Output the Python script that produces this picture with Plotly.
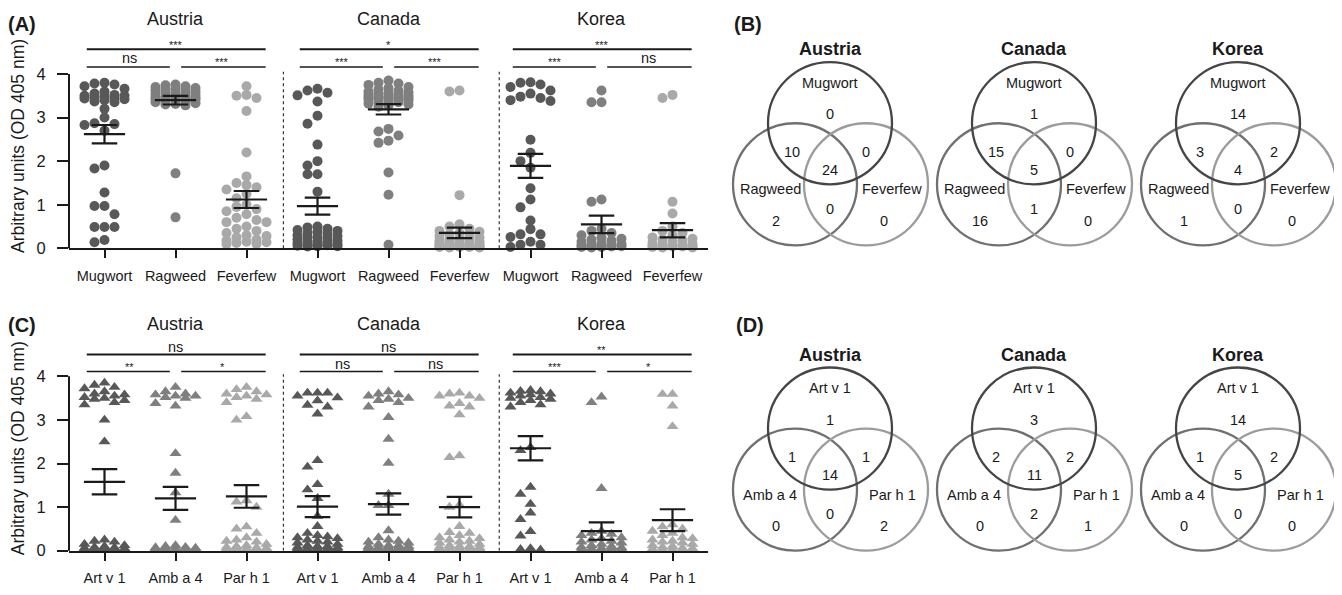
import math
import plotly.graph_objects as go

W, H = 1342, 595
OFF = 8  # page offset of the figure (default body margin)
FONT = "Liberation Sans, Arial, Helvetica, sans-serif"

countries = ["Austria", "Canada", "Korea"]
extracts = ["Mugwort", "Ragweed", "Feverfew"]
allergens = ["Art v 1", "Amb a 4", "Par h 1"]
y_ticks = [0, 1, 2, 3, 4]
y_title = "Arbitrary units (OD 405 nm)"

# ---------------- Panel A: IgE to pollen extracts ----------------
a_austria_mugwort = [3.80, 3.78, 3.76, 3.72, 3.66, 3.60, 3.55, 3.52, 3.50, 3.50, 3.48, 3.47, 3.45, 3.44, 3.42, 3.40, 3.37, 3.35,
                     3.20, 3.00, 2.87, 2.85, 2.83, 2.70, 1.90, 1.83, 1.28, 0.97, 0.97, 0.78, 0.49, 0.49, 0.49, 0.19, 0.14]
a_austria_ragweed = [3.76, 3.74, 3.72, 3.70, 3.68, 3.66, 3.65, 3.63, 3.62, 3.60, 3.58, 3.57, 3.55, 3.54, 3.52, 3.50, 3.49,
                     3.48, 3.47, 3.46, 3.45, 3.44, 3.43, 3.42, 3.41, 3.40, 3.38, 3.36, 3.35, 3.33, 3.31, 3.30, 3.28, 1.72, 0.71]
a_austria_feverfew = [3.72, 3.52, 3.50, 3.45, 3.15, 2.20, 1.65, 1.50, 1.45, 1.40, 1.35, 1.25, 1.15, 1.00, 0.95, 0.90, 0.85, 0.78,
                      0.70, 0.65, 0.60, 0.60, 0.50, 0.45, 0.40, 0.35, 0.30, 0.28, 0.25, 0.20, 0.18, 0.15, 0.14, 0.12, 0.10, 0.10]
a_canada_mugwort = [3.66, 3.62, 3.57, 3.51, 3.37, 3.04, 2.86, 2.38, 2.00, 1.90, 1.70, 1.70, 1.30,
                    0.50, 0.48, 0.45, 0.42, 0.40, 0.38, 0.35, 0.33, 0.30, 0.28, 0.26, 0.25, 0.22, 0.20, 0.18, 0.16, 0.15,
                    0.13, 0.12, 0.10, 0.09, 0.08, 0.07, 0.06, 0.05, 0.05, 0.04]
a_canada_ragweed = [3.85, 3.80, 3.78, 3.75, 3.70, 3.68, 3.65, 3.62, 3.60, 3.58, 3.56, 3.55, 3.53, 3.52, 3.50, 3.49, 3.48, 3.47,
                    3.46, 3.45, 3.44, 3.43, 3.42, 3.41, 3.40, 3.38, 3.36, 3.35, 3.32, 3.30, 3.28, 3.25,
                    2.74, 2.68, 2.59, 2.47, 2.42, 1.74, 1.23, 0.08]
a_canada_feverfew = [3.62, 3.60, 1.22, 0.55, 0.50, 0.45, 0.40, 0.38, 0.35, 0.32, 0.30, 0.28, 0.25, 0.22, 0.20, 0.20, 0.18, 0.16,
                     0.15, 0.14, 0.12, 0.12, 0.10, 0.10, 0.09, 0.08, 0.08, 0.07, 0.06, 0.06, 0.05, 0.05, 0.05, 0.04, 0.04,
                     0.03, 0.03, 0.03, 0.02, 0.02]
a_korea_mugwort = [3.81, 3.80, 3.76, 3.70, 3.62, 3.55, 3.48, 3.45, 3.40, 3.38, 2.49, 2.19, 2.00, 1.85, 1.38, 1.12, 0.94,
                   0.64, 0.44, 0.32, 0.32, 0.26, 0.15, 0.08, 0.08, 0.03]
a_korea_ragweed = [3.62, 3.35, 3.35, 1.12, 1.07, 0.45, 0.40, 0.35, 0.30, 0.25, 0.22, 0.20, 0.18, 0.15, 0.12, 0.10, 0.09,
                   0.08, 0.07, 0.06, 0.05, 0.05, 0.04, 0.03, 0.03, 0.02]
a_korea_feverfew = [3.52, 3.45, 1.07, 0.80, 0.50, 0.40, 0.35, 0.30, 0.25, 0.22, 0.20, 0.18, 0.15, 0.12, 0.10, 0.10, 0.08,
                    0.07, 0.06, 0.05, 0.05, 0.04, 0.04, 0.03, 0.02, 0.02]
a_means = [2.62, 3.40, 1.12, 0.97, 3.19, 0.355, 1.89, 0.55, 0.415]
a_sems = [0.21, 0.10, 0.195, 0.195, 0.12, 0.12, 0.275, 0.20, 0.165]
a_sig = [["***", "ns", "***"], ["*", "***", "***"], ["***", "***", "ns"]]  # [overall, left pair, right pair]

# ---------------- Panel C: IgE to recombinant allergens ----------------
c_austria_artv1 = [3.85, 3.80, 3.75, 3.72, 3.65, 3.60, 3.58, 3.55, 3.52, 3.50, 3.48, 3.45, 3.40, 3.35, 3.00, 2.50,
                   0.25, 0.22, 0.20, 0.15, 0.12, 0.10, 0.08, 0.07, 0.06, 0.05, 0.05, 0.04, 0.04, 0.03, 0.03, 0.02, 0.02,
                   0.02, 0.01, 0.01]
c_austria_amba4 = [3.75, 3.65, 3.60, 3.58, 3.55, 3.55, 3.52, 3.50, 3.38, 3.32, 2.23, 1.78, 1.33, 0.70,
                   0.12, 0.10, 0.08, 0.07, 0.06, 0.05, 0.05, 0.05, 0.04, 0.04, 0.04, 0.03, 0.03, 0.03, 0.02, 0.02, 0.02,
                   0.02, 0.01, 0.01, 0.01, 0.01]
c_austria_parh1 = [3.75, 3.70, 3.65, 3.60, 3.58, 3.55, 3.52, 3.48, 3.40, 3.08, 3.00, 1.15, 1.12, 1.00, 0.55, 0.50, 0.40,
                   0.30, 0.25, 0.22, 0.20, 0.15, 0.12, 0.10, 0.08, 0.07, 0.06, 0.05, 0.05, 0.04, 0.03, 0.03, 0.02, 0.02,
                   0.01, 0.01]
c_canada_artv1 = [3.62, 3.62, 3.62, 3.55, 3.51, 3.44, 3.34, 3.30, 3.14, 2.07, 1.92, 1.52, 1.40, 1.20, 0.79, 0.56,
                  0.40, 0.35, 0.32, 0.30, 0.28, 0.25, 0.22, 0.20, 0.18, 0.15, 0.12, 0.10, 0.10, 0.08, 0.07, 0.06, 0.05,
                  0.05, 0.04, 0.03, 0.03, 0.02, 0.02, 0.01]
c_canada_amba4 = [3.65, 3.60, 3.58, 3.55, 3.50, 3.48, 3.45, 3.40, 3.30, 3.06, 2.56, 2.01, 1.30, 1.04, 1.04, 0.46,
                  0.30, 0.25, 0.22, 0.20, 0.18, 0.15, 0.12, 0.12, 0.10, 0.10, 0.08, 0.08, 0.07, 0.06, 0.05, 0.05, 0.04,
                  0.04, 0.03, 0.03, 0.02, 0.02, 0.01, 0.01]
c_canada_parh1 = [3.62, 3.60, 3.55, 3.55, 3.50, 3.38, 3.32, 3.30, 3.12, 2.18, 2.14, 1.05, 1.00, 0.56, 0.42, 0.40,
                  0.35, 0.30, 0.28, 0.25, 0.22, 0.20, 0.18, 0.15, 0.12, 0.10, 0.10, 0.08, 0.07, 0.06, 0.05, 0.05, 0.04,
                  0.04, 0.03, 0.03, 0.02, 0.02, 0.01, 0.01]
c_korea_artv1 = [3.68, 3.66, 3.65, 3.62, 3.60, 3.58, 3.55, 3.52, 3.50, 3.48, 3.45, 3.40, 3.35, 3.30, 2.37, 2.30, 1.46,
                 1.30, 1.07, 0.87, 0.72, 0.44, 0.34, 0.05, 0.03, 0.02]
c_korea_amba4 = [3.53, 3.40, 1.43, 0.45, 0.40, 0.38, 0.35, 0.30, 0.28, 0.25, 0.22, 0.20, 0.18, 0.15, 0.12, 0.10, 0.08,
                 0.07, 0.06, 0.05, 0.04, 0.03, 0.03, 0.02, 0.02, 0.01]
c_korea_parh1 = [3.59, 3.59, 3.32, 2.85, 0.60, 0.55, 0.50, 0.45, 0.40, 0.35, 0.30, 0.28, 0.25, 0.22, 0.20, 0.18, 0.15,
                 0.12, 0.10, 0.08, 0.06, 0.05, 0.04, 0.03, 0.02, 0.01]
c_means = [1.58, 1.20, 1.245, 1.01, 1.07, 1.00, 2.35, 0.45, 0.70]
c_sems = [0.29, 0.265, 0.26, 0.24, 0.245, 0.235, 0.28, 0.20, 0.25]
c_sig = [["ns", "**", "*"], ["ns", "ns", "ns"], ["**", "***", "*"]]

# ---------------- Venn counts: [top only, top&left, top&right, all three, left only, right only, left&right] ----
venn_b = {"Austria": [0, 10, 0, 24, 2, 0, 0],
          "Canada": [1, 15, 0, 5, 16, 0, 1],
          "Korea": [14, 3, 2, 4, 1, 0, 0]}
venn_d = {"Austria": [1, 1, 1, 14, 0, 2, 0],
          "Canada": [3, 2, 2, 11, 0, 1, 2],
          "Korea": [14, 1, 2, 5, 0, 0, 0]}

a_columns = [a_austria_mugwort, a_austria_ragweed, a_austria_feverfew,
             a_canada_mugwort, a_canada_ragweed, a_canada_feverfew,
             a_korea_mugwort, a_korea_ragweed, a_korea_feverfew]
c_columns = [c_austria_artv1, c_austria_amba4, c_austria_parh1,
             c_canada_artv1, c_canada_amba4, c_canada_parh1,
             c_korea_artv1, c_korea_amba4, c_korea_parh1]

# ---------------- styling / layout geometry (page pixels) ----------------
GREYS = ["#585858", "#7f7f7f", "#a9a9a9"]
CIRCLE_GREYS = ["#454545", "#707070", "#9c9c9c"]
INK = "#1a1a1a"
PX_X = 71.0      # px per category
PX_Y = 44.25     # px per y unit
X_LEFT, X_RIGHT = 69, 708
A_BOTTOM, A_TOP = 252, OFF
C_BOTTOM, C_TOP = 559, 300


def pxp(px):
    return (px - OFF) / W


def pyp(py):
    return 1 - (py - OFF) / H


def swarm(vals, step=10.0, dmin=8.5, kmax=2):
    placed = []
    offs = [0.0] * len(vals)
    order = sorted(range(len(vals)), key=lambda i: -vals[i])
    ks = [0]
    for k in range(1, kmax + 1):
        ks += [-k, k]
    for i in order:
        y = vals[i] * PX_Y
        best, bestd = 0.0, -1.0
        for k in ks:
            x = k * step
            d = min((math.hypot(x - px, y - py) for px, py in placed), default=1e9)
            if d >= dmin:
                best = x
                break
            if d > bestd:
                bestd, best = d, x
        placed.append((best, y))
        offs[i] = best / PX_X
    return offs


fig = go.Figure()
annotations = []
shapes = []


def add_dot_panel(columns, means, sems, sig, symbol, msize, xref, yref, ymax, bars, title_y, sig_dy):
    for i, vals in enumerate(columns):
        offs = swarm(vals)
        fig.add_trace(go.Scatter(
            x=[i + o for o in offs], y=vals, mode="markers", cliponaxis=False,
            marker=dict(symbol=symbol, size=msize, color=GREYS[i % 3], line=dict(width=0)),
            xaxis=xref, yaxis=yref, showlegend=False, hoverinfo="y"))
    lx, ly = [], []
    for i, (m, s) in enumerate(zip(means, sems)):
        lx += [i - 0.29, i + 0.29, None, i, i, None, i - 0.18, i + 0.18, None, i - 0.18, i + 0.18, None]
        ly += [m, m, None, m - s, m + s, None, m + s, m + s, None, m - s, m - s, None]
    fig.add_trace(go.Scatter(x=lx, y=ly, mode="lines", line=dict(color=INK, width=2.2),
                             xaxis=xref, yaxis=yref, showlegend=False, hoverinfo="skip"))
    shapes.append(dict(type="line", xref=f"{xref} domain", yref=f"{yref} domain", x0=0, x1=0, y0=0,
                       y1=4 / ymax, line=dict(color=INK, width=2)))
    for sx in [2.52, 5.56]:
        shapes.append(dict(type="line", xref=xref, yref=yref, x0=sx, x1=sx, y0=0, y1=4.05,
                           line=dict(color="#333333", width=1.2, dash="dot")))
    top_y, low_y = bars
    for g in range(3):
        b = 3 * g
        shapes.append(dict(type="line", xref=xref, yref=yref, x0=b - 0.25, x1=b + 2.27, y0=top_y, y1=top_y,
                           line=dict(color=INK, width=2)))
        shapes.append(dict(type="line", xref=xref, yref=yref, x0=b - 0.25, x1=b + 0.92, y0=low_y, y1=low_y,
                           line=dict(color=INK, width=1.5)))
        shapes.append(dict(type="line", xref=xref, yref=yref, x0=b + 1.08, x1=b + 2.27, y0=low_y, y1=low_y,
                           line=dict(color=INK, width=1.5)))
        annotations.append(dict(text=countries[g], x=b + 1, y=title_y, xref=xref, yref=yref, showarrow=False,
                                xanchor="center", yanchor="middle",
                                font=dict(family=FONT, size=18, color=INK)))
        for j, (sx, sy) in enumerate([(b + 1, top_y), (b + 0.35, low_y), (b + 1.66, low_y)]):
            t = sig[g][j]
            star = t.startswith("*")
            annotations.append(dict(text=t, x=sx, y=sy + (sig_dy[1] if star else sig_dy[0]),
                                    xref=xref, yref=yref, showarrow=False, xanchor="center", yanchor="middle",
                                    font=dict(family=FONT, size=11 if star else 14.5, color=INK)))


a_ymax = (A_BOTTOM - A_TOP) / PX_Y
c_ymax = (C_BOTTOM - C_TOP) / PX_Y
add_dot_panel(a_columns, a_means, a_sems, a_sig, "circle", 10, "x", "y", a_ymax,
              (4.565, 4.16), 5.27, (0.2, 0.11))
add_dot_panel(c_columns, c_means, c_sems, c_sig, "triangle-up", 10.5, "x2", "y2", c_ymax,
              (4.50, 4.11), 5.21, (0.18, 0.10))

xdom = [pxp(X_LEFT), pxp(X_RIGHT)]
common_x = dict(domain=xdom, range=[-0.5, 8.5], tickmode="array", tickvals=list(range(9)),
                ticks="outside", ticklen=8, tickwidth=2, tickcolor=INK, showline=True, linewidth=2,
                linecolor=INK, showgrid=False, zeroline=False, ticklabelstandoff=5,
                tickfont=dict(family=FONT, size=14.5, color=INK))
common_y = dict(tickmode="array", tickvals=y_ticks, ticks="outside", ticklen=11, tickwidth=2, tickcolor=INK,
                showline=False, showgrid=False, zeroline=False, ticklabelstandoff=8,
                tickfont=dict(family=FONT, size=16.5, color=INK))

layout_axes = dict(
    xaxis=dict(common_x, anchor="y", ticktext=extracts * 3),
    yaxis=dict(common_y, anchor="x", domain=[pyp(A_BOTTOM), pyp(A_TOP)], range=[0, a_ymax]),
    xaxis2=dict(common_x, anchor="y2", ticktext=allergens * 3),
    yaxis2=dict(common_y, anchor="x2", domain=[pyp(C_BOTTOM), pyp(C_TOP)], range=[0, c_ymax]),
    # page-pixel overlay axes for the venn diagrams and free text
    xaxis3=dict(domain=[0, 1], range=[OFF, W + OFF], visible=False, anchor="y3"),
    yaxis3=dict(domain=[0, 1], range=[H + OFF, OFF], visible=False, anchor="x3"),
)


def page_text(text, px, py, size, angle=0):
    annotations.append(dict(text=text, x=px, y=py, xref="x3", yref="y3", showarrow=False, textangle=angle,
                            xanchor="center", yanchor="middle", font=dict(family=FONT, size=size, color=INK)))


# y-axis titles
page_text(y_title, 18, 148, 17.5, -90)
page_text(y_title, 18, 455, 17.5, -90)

# panel labels
for lab, px, py in [("(A)", 22, 24), ("(B)", 748, 24), ("(C)", 22, 330), ("(D)", 750, 330)]:
    page_text(f"<b>{lab}</b>", px, py, 20)

# ---------------- Venn diagrams ----------------
VENN_CX = [830, 1034, 1238]
R = 62
count_offsets = [(0, -9), (-38, 29), (36, 29), (0, 47), (-54, 99), (54, 99), (0, 87)]
name_offsets = [(0, -41), (-60, 67), (62, 67)]


def add_venn(counts, names, cy):
    for k, c in enumerate(countries):
        cx = VENN_CX[k]
        centres = [(cx, cy), (cx - 35, cy + 62), (cx + 36, cy + 62)]
        for idx in [1, 2, 0]:
            ccx, ccy = centres[idx]
            shapes.append(dict(type="circle", xref="x3", yref="y3", x0=ccx - R, x1=ccx + R, y0=ccy - R,
                               y1=ccy + R, line=dict(color=CIRCLE_GREYS[idx], width=2.3)))
        page_text(f"<b>{c}</b>", cx, cy - 75, 18)
        for nm, (dx, dy) in zip(names, name_offsets):
            page_text(nm, cx + dx, cy + dy, 14.5)
        for val, (dx, dy) in zip(counts[c], count_offsets):
            page_text(str(val), cx + dx, cy + dy, 14.5)


add_venn(venn_b, extracts, 125)
add_venn(venn_d, allergens, 435)

fig.add_trace(go.Scatter(x=[OFF], y=[OFF], mode="markers", marker=dict(size=1, opacity=0), xaxis="x3", yaxis="y3",
                         showlegend=False, hoverinfo="skip"))

fig.update_layout(width=W, height=H, margin=dict(l=0, r=0, t=0, b=0), paper_bgcolor="white",
                  plot_bgcolor="rgba(0,0,0,0)", showlegend=False, shapes=shapes, annotations=annotations,
                  font=dict(family=FONT, color=INK), **layout_axes)
fig.write_html("out.html")
